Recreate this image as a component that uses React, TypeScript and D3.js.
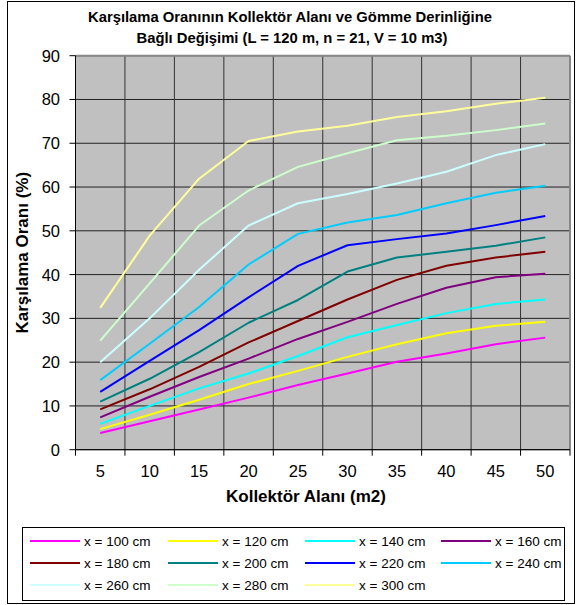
import React from 'react';
import * as d3 from 'd3';

const categories = [5, 10, 15, 20, 25, 30, 35, 40, 45, 50];
const yTicks = [0, 10, 20, 30, 40, 50, 60, 70, 80, 90];

const seriesNames = [
  'x = 100 cm', 'x = 120 cm', 'x = 140 cm', 'x = 160 cm',
  'x = 180 cm', 'x = 200 cm', 'x = 220 cm', 'x = 240 cm',
  'x = 260 cm', 'x = 280 cm', 'x = 300 cm',
];
const s100 = [3.8, 6.5, 9.2, 11.9, 14.8, 17.4, 20.1, 22.0, 24.1, 25.6];
const s120 = [4.7, 8.0, 11.4, 15.0, 18.0, 21.2, 24.1, 26.6, 28.3, 29.2];
const s140 = [5.9, 10.0, 14.0, 17.4, 21.4, 25.7, 28.5, 31.2, 33.3, 34.3];
const s160 = [7.4, 12.1, 16.6, 20.8, 25.3, 29.2, 33.3, 37.0, 39.4, 40.2];
const s180 = [9.2, 13.8, 18.9, 24.5, 29.4, 34.3, 38.8, 42.0, 43.9, 45.2];
const s200 = [11.0, 16.2, 22.3, 29.0, 34.2, 40.7, 43.9, 45.2, 46.6, 48.5];
const s220 = [13.2, 20.3, 27.3, 34.8, 42.0, 46.7, 48.1, 49.4, 51.3, 53.4];
const s240 = [15.9, 24.2, 32.6, 42.3, 49.3, 51.9, 53.6, 56.3, 58.7, 60.3];
const s260 = [20.0, 30.0, 41.1, 51.2, 56.3, 58.4, 60.8, 63.5, 67.3, 69.8];
const s280 = [24.9, 38.0, 51.2, 59.2, 64.6, 67.7, 70.7, 71.7, 73.0, 74.5];
const s300 = [32.4, 48.9, 61.9, 70.5, 72.7, 74.0, 76.0, 77.3, 79.0, 80.4];
const seriesValues = [s100, s120, s140, s160, s180, s200, s220, s240, s260, s280, s300];
const colors = [
  '#FF00FF', '#FFFF00', '#00FFFF', '#800080', '#800000', '#008080',
  '#0000FF', '#00CCFF', '#CCFFFF', '#CCFFCC', '#FFFF99',
];

const FONT = '"Liberation Sans", Arial, Helvetica, sans-serif';

export default function App() {
  const W = 576, H = 605;
  const pl = 75.5, pr = 570, pt = 55.7, pb = 449.7;
  const x = d3.scaleBand().domain(categories.map(String)).range([pl, pr]);
  const y = d3.scaleLinear().domain([0, 90]).range([pb, pt]);
  const cx = (i: number) => (x(String(categories[i])) as number) + x.bandwidth() / 2;
  const line = d3.line<number>().x((_, i) => cx(i)).y((d) => y(d));

  const legendCols = [30, 168, 305, 441];
  const legendRows = [541, 563, 585];

  return (
    <svg width={W} height={H} style={{ position: 'absolute', left: 0, top: 0 }} fontFamily={FONT}>
      <rect x={0} y={0} width={W} height={H} fill="#fff" />
      <rect x={7.5} y={1.5} width={567} height={602} fill="none" stroke="#000" strokeWidth={1} />
      <text x={290} y={22} textAnchor="middle" fontSize={14.8} fontWeight="bold">
        Karşılama Oranının Kollektör Alanı ve Gömme Derinliğine
      </text>
      <text x={292} y={43} textAnchor="middle" fontSize={14.8} fontWeight="bold">
        Bağlı Değişimi (L = 120 m, n = 21, V = 10 m3)
      </text>
      <rect x={pl} y={pt} width={pr - pl} height={pb - pt} fill="#C0C0C0" />
      {yTicks.map((t) => (
        <line key={'gy' + t} x1={pl} x2={pr} y1={y(t)} y2={y(t)} stroke="#222" strokeWidth={1} />
      ))}
      {categories.slice(1).map((c) => (
        <line key={'gx' + c} x1={x(String(c))} x2={x(String(c))} y1={pt} y2={pb} stroke="#333" strokeWidth={1} />
      ))}
      <line x1={pl} x2={pr} y1={pt} y2={pt} stroke="#888" strokeWidth={2} />
      <line x1={pr} x2={pr} y1={pt} y2={pb} stroke="#888" strokeWidth={2} />
      <line x1={pl} x2={pl} y1={pt} y2={pb} stroke="#000" strokeWidth={1} />
      <line x1={pl} x2={pr} y1={pb} y2={pb} stroke="#000" strokeWidth={1} />
      {yTicks.map((t) => (
        <g key={'ty' + t}>
          <line x1={pl - 6} x2={pl} y1={y(t)} y2={y(t)} stroke="#000" />
          <text x={60} y={y(t)} dy="0.36em" textAnchor="end" fontSize={16.5}>{t}</text>
        </g>
      ))}
      {categories.map((c, i) => (
        <g key={'tx' + c}>
          <line x1={x(String(c))} x2={x(String(c))} y1={pb} y2={pb + 6} stroke="#000" />
          <text x={cx(i)} y={477} textAnchor="middle" fontSize={16.5}>{c}</text>
        </g>
      ))}
      <line x1={pr} x2={pr} y1={pb} y2={pb + 6} stroke="#000" />
      <text x={306} y={502} textAnchor="middle" fontSize={17} fontWeight="bold">Kollektör Alanı (m2)</text>
      <text transform={`translate(28,${(pt + pb) / 2}) rotate(-90)`} textAnchor="middle" fontSize={17} fontWeight="bold">
        Karşılama Oranı (%)
      </text>
      {seriesValues.map((vals, k) => (
        <path key={'s' + k} d={line(vals) as string} fill="none" stroke={colors[k]} strokeWidth={2} strokeLinejoin="round" />
      ))}
      <rect x={22.5} y={527.5} width={542} height={73} fill="#fff" stroke="#000" strokeWidth={1} />
      {seriesNames.map((n, k) => {
        const col = k % 4, row = Math.floor(k / 4);
        const lx = legendCols[col], ly = legendRows[row];
        return (
          <g key={'l' + k}>
            <line x1={lx} x2={lx + 50} y1={ly} y2={ly} stroke={colors[k]} strokeWidth={2} />
            <text x={lx + 54} y={ly} dy="0.36em" fontSize={13.5}>{n}</text>
          </g>
        );
      })}
    </svg>
  );
}
